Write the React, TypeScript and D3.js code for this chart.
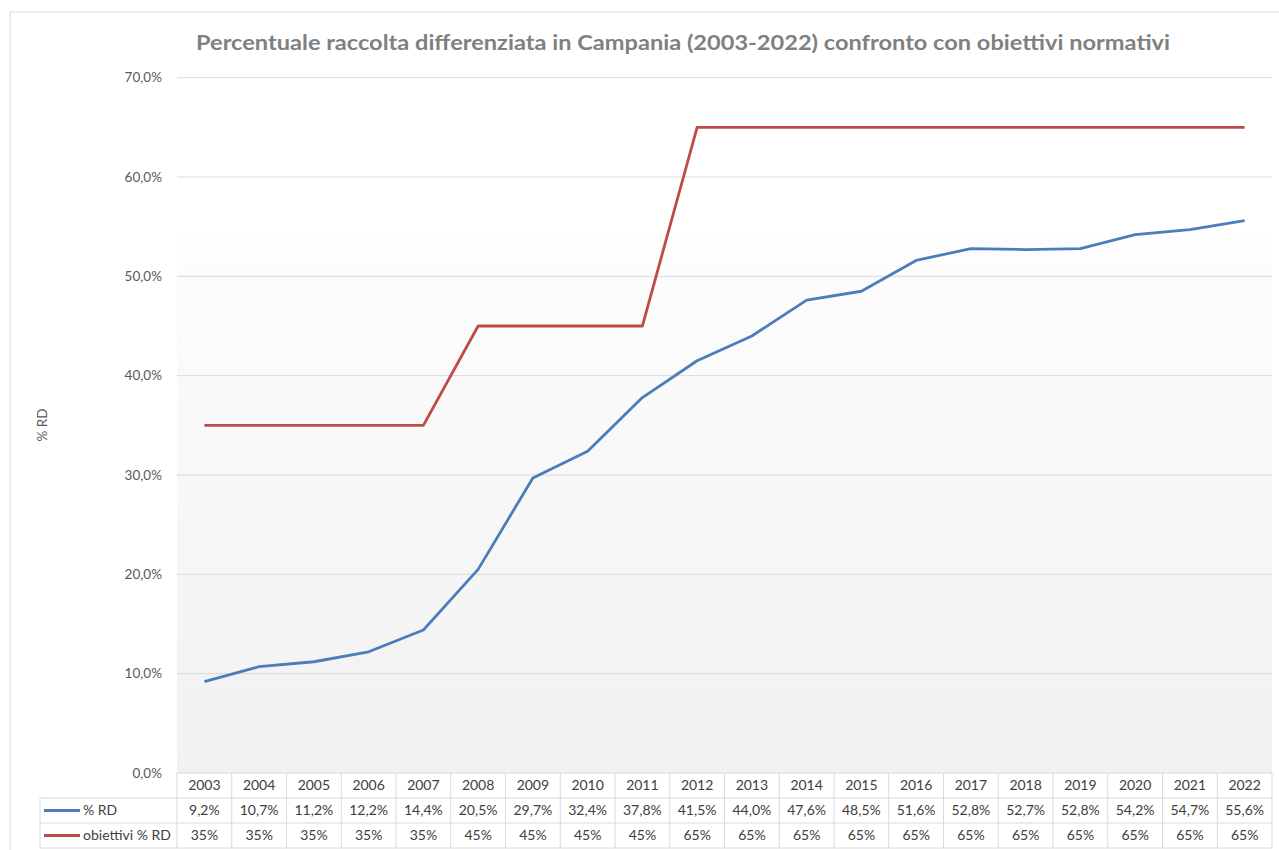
import React from "react";
import * as d3 from "d3";

const years = ["2003","2004","2005","2006","2007","2008","2009","2010","2011","2012","2013","2014","2015","2016","2017","2018","2019","2020","2021","2022"];
const rdValues = [9.2, 10.7, 11.2, 12.2, 14.4, 20.5, 29.7, 32.4, 37.8, 41.5, 44.0, 47.6, 48.5, 51.6, 52.8, 52.7, 52.8, 54.2, 54.7, 55.6];
const targetValues = [35, 35, 35, 35, 35, 45, 45, 45, 45, 65, 65, 65, 65, 65, 65, 65, 65, 65, 65, 65];
const yTicks = [0, 10, 20, 30, 40, 50, 60, 70];
const seriesNames = ["% RD", "obiettivi % RD"];

const W = 1279;
const H = 850;
const left = 177;
const right = 1272;
const top = 77.7;
const bottom = 773;
const rowH = 25;
const font = "Lato, 'Open Sans', sans-serif";
const blue = "#4a7ebb";
const red = "#be4b48";
const grid = "#d9d9d9";

const fmtPct = (v: number) => v.toFixed(1).replace(".", ",") + "%";

function App() {
  const x = d3.scaleBand<string>().domain(years).range([left, right]);
  const y = d3.scaleLinear().domain([0, 70]).range([bottom, top]);
  const cx = (d: string) => (x(d) as number) + x.bandwidth() / 2;

  const line = d3
    .line<number>()
    .x((_, i) => cx(years[i]))
    .y((v) => y(v));

  const rows = [
    { name: seriesNames[0], color: blue, vals: rdValues.map(fmtPct) },
    { name: seriesNames[1], color: red, vals: targetValues.map((v) => v + "%") },
  ];

  return (
    <svg width={W} height={H} style={{ position: "absolute", left: 0, top: 0, background: "#fff" }}>
      <defs>
        <linearGradient id="bg" x1="0" y1="0" x2="0" y2="1">
          <stop offset="0" stopColor="#ffffff" />
          <stop offset="0.225" stopColor="#ffffff" />
          <stop offset="0.23" stopColor="#fdfdfd" />
          <stop offset="1" stopColor="#f1f1f1" />
        </linearGradient>
      </defs>
      <rect x={10} y={12} width={W} height={H} fill="none" stroke={grid} />
      <rect x={left} y={top} width={right - left} height={bottom - top} fill="url(#bg)" />

      <text x={683} y={50} textAnchor="middle" fontFamily={font} fontWeight="bold" fontSize={20}
        fill="#808080" textLength={974} lengthAdjust="spacingAndGlyphs">
        Percentuale raccolta differenziata in Campania (2003-2022) confronto con obiettivi normativi
      </text>

      {yTicks.map((t) => (
        <g key={t}>
          {t > 0 && <line x1={left} x2={right} y1={y(t)} y2={y(t)} stroke={grid} strokeWidth={1} />}
          <text x={162} y={y(t)} dy="0.35em" textAnchor="end" fontFamily={font} fontSize={13.5} fill="#595959">
            {fmtPct(t)}
          </text>
        </g>
      ))}

      <text transform={`translate(47,425) rotate(-90)`} textAnchor="middle" fontFamily={font} fontSize={13.5} fill="#595959">
        % RD
      </text>

      <path d={line(targetValues) as string} fill="none" stroke={red} strokeWidth={2.8} strokeLinejoin="round" />
      <path d={line(rdValues) as string} fill="none" stroke={blue} strokeWidth={2.8} strokeLinejoin="round" />

      {/* data table */}
      <rect x={left} y={bottom} width={right - left} height={rowH} fill="#fff" />
      <g stroke={grid} strokeWidth={1}>
        <line x1={left} x2={right} y1={bottom} y2={bottom} />
        <line x1={40} x2={right} y1={bottom + rowH} y2={bottom + rowH} />
        <line x1={40} x2={right} y1={bottom + 2 * rowH} y2={bottom + 2 * rowH} />
        <line x1={40} x2={right} y1={bottom + 3 * rowH} y2={bottom + 3 * rowH} />
        <line x1={40} x2={40} y1={bottom + rowH} y2={bottom + 3 * rowH} />
        {years.map((d) => (
          <line key={d} x1={x(d) as number} x2={x(d) as number} y1={bottom} y2={bottom + 3 * rowH} />
        ))}
        <line x1={right} x2={right} y1={bottom} y2={bottom + 3 * rowH} />
      </g>
      {years.map((d) => (
        <text key={d} x={cx(d)} y={bottom + rowH / 2} dy="0.35em" textAnchor="middle" fontFamily={font} fontSize={14} fill="#404040">
          {d}
        </text>
      ))}
      {rows.map((r, ri) => {
        const ry = bottom + rowH * (ri + 1) + rowH / 2;
        return (
          <g key={r.name}>
            <line x1={44} x2={80} y1={ry} y2={ry} stroke={r.color} strokeWidth={3} />
            <text x={83} y={ry} dy="0.35em" fontFamily={font} fontSize={14} fill="#404040">{r.name}</text>
            {r.vals.map((v, i) => (
              <text key={i} x={cx(years[i])} y={ry} dy="0.35em" textAnchor="middle" fontFamily={font} fontSize={14} fill="#404040">
                {v}
              </text>
            ))}
          </g>
        );
      })}
    </svg>
  );
}

export default App;
